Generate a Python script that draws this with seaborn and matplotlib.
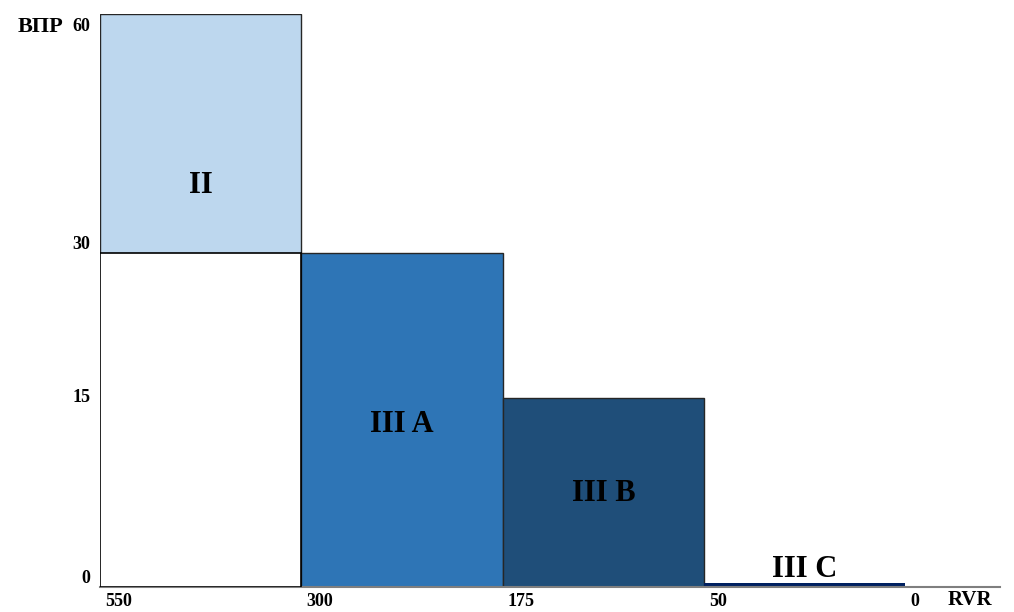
import numpy as np
import matplotlib
matplotlib.use("Agg")
import matplotlib.pyplot as plt
import matplotlib.transforms as mtransforms
import seaborn as sns

# categories and decision heights (ВПР), RVR boundaries
categories = ["II", "III A", "III B", "III C"]
dh_top = [60, 30, 15, 0.3]
dh_floor_cat2 = 30
colors = ["#BDD7EE", "#2E75B6", "#1F4E79", "#002060"]
rvr_labels = ["550", "300", "175", "50", "0"]
dh_ticks = [0, 15, 30, 60]
# the original axis is not linear: pixel height of each tick
dh_tick_px = [0, 189, 334, 573]
label_y = [38.5, 12.9, 7.4, 1.4]

sns.set_theme(style="white")
plt.rcParams["font.family"] = ["Liberation Serif", "DejaVu Serif"]
plt.rcParams["font.weight"] = "bold"
plt.rcParams["text.color"] = "black"

fig = plt.figure(figsize=(10.14, 6.12), dpi=100)
ax = fig.add_axes([100 / 1014, 25 / 612, 900 / 1014, 573 / 612])

sns.barplot(x=categories, y=dh_top, hue=categories, hue_order=categories,
            order=categories, palette=colors, saturation=1, width=1,
            edgecolor="#262626", linewidth=1, legend=False, ax=ax)
ax.patches[-1].set_linewidth(0)

# white box under category II
ax.bar(0, dh_floor_cat2, width=1, color="white", edgecolor="black",
       linewidth=1.2, zorder=3)


def fwd(y):
    return np.interp(y, dh_ticks, dh_tick_px)


def inv(p):
    return np.interp(p, dh_tick_px, dh_ticks)


ax.set_yscale("function", functions=(fwd, inv))
ax.set_ylim(0, 60)
ax.set_xlim(-0.5, 3.97)

for i, cat in enumerate(categories):
    ax.text(i, label_y[i], cat, ha="center", va="center", fontsize=22,
            fontweight="bold", color="black", zorder=5)

ax.set_xticks(np.arange(len(rvr_labels)) - 0.5, labels=rvr_labels)
ax.set_yticks(dh_ticks, labels=[str(t) for t in dh_ticks])
ax.tick_params(axis="both", length=0, labelsize=13, colors="black")
ax.tick_params(axis="x", pad=4)
ax.tick_params(axis="y", pad=7)
ax.set_xlabel("")
ax.set_ylabel("")

dx = mtransforms.ScaledTranslation(5 / 100, 0, fig.dpi_scale_trans)
for lab in ax.get_xticklabels():
    lab.set_horizontalalignment("left")
    lab.set_transform(lab.get_transform() + dx)
    lab.set_fontweight("bold")

va_map = {"0": "bottom", "15": "center", "30": "bottom", "60": "top"}
dy60 = mtransforms.ScaledTranslation(0, -4 / 100, fig.dpi_scale_trans)
for lab in ax.get_yticklabels():
    lab.set_verticalalignment(va_map[lab.get_text()])
    lab.set_fontweight("bold")
    if lab.get_text() == "60":
        lab.set_transform(lab.get_transform() + dy60)

sns.despine(ax=ax, left=True)
ax.spines["bottom"].set_color("#7f7f7f")
ax.spines["bottom"].set_linewidth(1.5)
ax.grid(False)

fig.text(18 / 1014, 1 - 27 / 612, "ВПР", ha="left", va="center",
         fontsize=16, fontweight="bold", color="black")
fig.text(948 / 1014, 1 - 600 / 612, "RVR", ha="left", va="center",
         fontsize=15, fontweight="bold", color="black")

fig.savefig("out.png", dpi=100, facecolor="white")
